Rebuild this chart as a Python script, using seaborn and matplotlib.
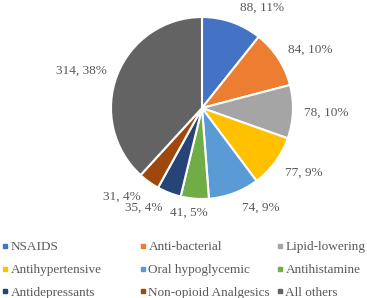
import matplotlib
matplotlib.use("Agg")
import matplotlib.pyplot as plt
from matplotlib.lines import Line2D
import seaborn as sns

categories = ["NSAIDS", "Anti-bacterial", "Lipid-lowering", "Antihypertensive",
              "Oral hypoglycemic", "Antihistamine", "Antidepressants",
              "Non-opioid Analgesics", "All others"]
counts = [88, 84, 78, 77, 74, 41, 35, 31, 314]
pct_labels = ["11%", "10%", "10%", "9%", "9%", "5%", "4%", "4%", "38%"]
colors = ["#4472C4", "#ED7D31", "#A5A5A5", "#FFC000", "#5B9BD5",
          "#70AD47", "#264478", "#9E480E", "#636363"]

# label offsets (in pie radii)
label_pos = [(0.66, 1.10), (1.19, 0.64), (1.37, -0.05), (1.12, -0.71),
             (0.65, -1.10), (-0.14, -1.15), (-0.64, -1.10), (-0.88, -0.97),
             (-1.33, 0.41)]

sns.set_theme(style="white")
plt.rcParams["font.family"] = ["Liberation Serif", "DejaVu Serif"]
txt = "#595959"

W, H = 367, 298
fig = plt.figure(figsize=(W / 100, H / 100), dpi=100)
r = 91
cx, cy = 202, 108
ax = fig.add_axes([(cx - r) / W, (H - cy - r) / H, 2 * r / W, 2 * r / H])
ax.pie(counts, colors=sns.color_palette(colors), startangle=90, counterclock=False,
       radius=1, wedgeprops=dict(edgecolor="white", linewidth=1.5))
ax.set_xlim(-1, 1)
ax.set_ylim(-1, 1)
ax.set_aspect("equal")
ax.axis("off")

for v, p, (x, y) in zip(counts, pct_labels, label_pos):
    ax.text(x, y, f"{v}, {p}", ha="center", va="center", fontsize=9.5,
            color=txt, clip_on=False)

handles = [Line2D([], [], marker="s", linestyle="none", markersize=3.5,
                  markerfacecolor=c, markeredgecolor=c) for c in colors]

# Excel-style legend: three evenly spaced columns, filled row by row
col_x = [2, 139.5, 276.5]
for j, x0 in enumerate(col_x):
    idx = [j, j + 3, j + 6]
    leg = fig.legend([handles[i] for i in idx], [categories[i] for i in idx],
                     loc="center left", bbox_to_anchor=(x0 / W, 1 - 270 / H),
                     frameon=False, fontsize=9.5, labelcolor=txt,
                     handlelength=0.5, handletextpad=0.18, labelspacing=0.8,
                     borderpad=0, borderaxespad=0)

fig.savefig("out.png", dpi=100)
